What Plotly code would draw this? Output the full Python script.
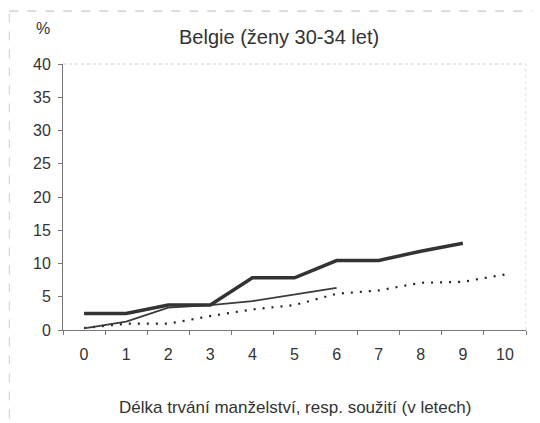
import plotly.graph_objects as go

years = ["0", "1", "2", "3", "4", "5", "6", "7", "8", "9", "10"]
thick_vals = [2.5, 2.5, 3.75, 3.75, 7.85, 7.85, 10.45, 10.45, 11.85, 13.05, None]
thin_vals = [0.25, 1.25, 3.35, 3.75, 4.35, 5.35, 6.35, None, None, None, None]
dotted_vals = [0.3, 0.95, 0.95, 2.1, 3.1, 3.75, 5.45, 5.95, 7.1, 7.25, 8.35]
y_ticks = [0, 5, 10, 15, 20, 25, 30, 35, 40]

fig = go.Figure()
fig.add_trace(go.Scatter(x=years, y=dotted_vals, mode="lines",
                         line=dict(color="#222222", width=2.2, dash="2px,7px"), showlegend=False))
fig.add_trace(go.Scatter(x=years, y=thin_vals, mode="lines",
                         line=dict(color="#3a3a3a", width=1.8), showlegend=False))
fig.add_trace(go.Scatter(x=years, y=thick_vals, mode="lines",
                         line=dict(color="#333333", width=3.5), showlegend=False))

font_family = "Liberation Sans, Arial, sans-serif"
fig.update_layout(
    width=532, height=415,
    margin=dict(l=55, r=14, t=56, b=93, autoexpand=False),
    paper_bgcolor="white", plot_bgcolor="white",
    font=dict(family=font_family, size=16, color="#333333"),
    xaxis=dict(type="category", categoryorder="array", categoryarray=years,
               range=[-0.5, 10.5], tickson="boundaries", ticks="outside", ticklen=4,
               tickcolor="#777777", showline=True, linecolor="#777777", linewidth=1,
               showgrid=False, zeroline=False, ticklabelstandoff=10, automargin=False),
    yaxis=dict(range=[0, 40], tickvals=y_ticks, ticks="outside", ticklen=4,
               tickcolor="#777777", showline=True, linecolor="#777777", linewidth=1,
               showgrid=False, zeroline=False, ticklabelstandoff=4, automargin=False),
    annotations=[
        dict(text="Belgie (ženy 30-34 let)", xref="paper", yref="paper",
             x=0.4665, y=1.1015, xanchor="center", yanchor="middle", showarrow=False,
             font=dict(size=20, color="#333333")),
        dict(text="%", xref="paper", yref="paper", x=-0.0432, y=1.135,
             xanchor="center", yanchor="middle", showarrow=False,
             font=dict(size=16, color="#333333")),
        dict(text="Délka trvání manželství, resp. soužití (v letech)", xref="paper",
             yref="paper", x=0.501, y=-0.293, xanchor="center", yanchor="middle",
             showarrow=False, font=dict(size=17, color="#333333")),
    ],
    shapes=[
        dict(type="line", xref="paper", yref="paper", x0=0, x1=1, y0=1, y1=1,
             line=dict(color="#cccccc", width=1, dash="dot")),
        dict(type="line", xref="paper", yref="paper", x0=1, x1=1, y0=0, y1=1,
             line=dict(color="#dddddd", width=1, dash="dot")),
        dict(type="line", xref="paper", yref="paper", x0=-0.116, x1=1.1, y0=1.199, y1=1.199,
             line=dict(color="#bbbbbb", width=1, dash="dash")),
        dict(type="line", xref="paper", yref="paper", x0=-0.116, x1=-0.116, y0=-0.4, y1=1.199,
             line=dict(color="#cccccc", width=1, dash="dash")),
    ],
)

fig.write_html("out.html")
